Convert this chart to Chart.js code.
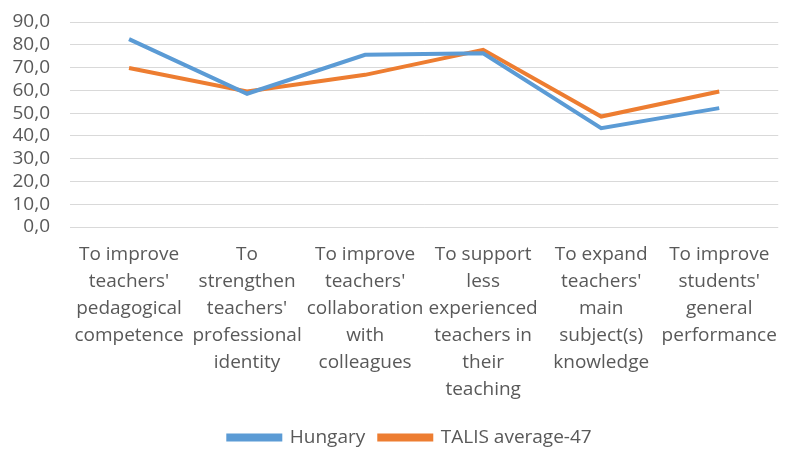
<!DOCTYPE html>
<html>
<head>
<meta charset="utf-8">
<script src="https://cdn.jsdelivr.net/npm/chart.js@4/dist/chart.umd.min.js"></script>
<style>
html,body{margin:0;padding:0;background:#fff;}
#wrap{width:791px;height:450px;position:relative;}
</style>
</head>
<body>
<div id="wrap"><canvas id="c"></canvas></div>
<script>
const categories = [
  ["To improve","teachers'","pedagogical","competence"],
  ["To","strengthen","teachers'","professional","identity"],
  ["To improve","teachers'","collaboration","with","colleagues"],
  ["To support","less","experienced","teachers in","their","teaching"],
  ["To expand","teachers'","main","subject(s)","knowledge"],
  ["To improve","students'","general","performance"]
];
const hungary = [82.5, 58.5, 75.6, 76.3, 43.4, 52.2];
const talis = [69.8, 59.5, 66.8, 77.8, 48.5, 59.5];
const seriesNames = ["Hungary", "TALIS average-47"];
const yTicks = [0, 10, 20, 30, 40, 50, 60, 70, 80, 90];

const blue = "#5B9BD5", orange = "#ED7D31", txt = "#595959";
const FONT = "'Open Sans', sans-serif";

const chart = new Chart(document.getElementById('c'), {
  type: 'line',
  data: {
    labels: categories,
    datasets: [
      {label: seriesNames[0], data: hungary, borderColor: blue, backgroundColor: blue, borderWidth: 4, pointRadius: 0, tension: 0},
      {label: seriesNames[1], data: talis, borderColor: orange, backgroundColor: orange, borderWidth: 4, pointRadius: 0, tension: 0}
    ]
  },
  options: {
    responsive: true,
    maintainAspectRatio: false,
    animation: false,
    layout: {padding: {left: 0, right: 1, top: 22, bottom: 0}},
    plugins: {
      legend: {
        position: 'bottom',
        labels: {
          boxWidth: 52, boxHeight: 4, color: txt, padding: 14,
          font: {family: FONT, size: 19}
        }
      },
      tooltip: {enabled: false}
    },
    scales: {
      x: {
        offset: true,
        grid: {display: false, drawTicks: false},
        border: {display: false},
        ticks: {
          color: txt, maxRotation: 0, autoSkip: false, padding: 14,
          font: {family: FONT, size: 19, lineHeight: 1.42}
        },
        afterFit: s => { s.height = 187; }
      },
      y: {
        min: 0, max: 90,
        afterBuildTicks: s => { s.ticks = yTicks.map(v => ({value: v})); },
        grid: {color: "#d9d9d9", lineWidth: 1, drawTicks: true, tickLength: 10, tickColor: "rgba(0,0,0,0)"},
        border: {display: false},
        ticks: {
          color: txt, padding: 10, autoSkip: false,
          font: {family: FONT, size: 19},
          callback: v => v.toFixed(1).replace('.', ',')
        },
        afterFit: s => { s.width = 70; }
      }
    }
  }
});

// tighten the legend box height and nudge it to the reference position
const lg = chart.legend;
const origFit = lg.fit;
lg.fit = function () { origFit.call(this); this.height = 36; this.minSize && (this.minSize.height = 36); };
const origDraw = lg.draw;
lg.draw = function () {
  const ctx = this.ctx;
  ctx.save(); ctx.translate(15, 0);
  origDraw.apply(this, arguments);
  ctx.restore();
};
chart.update();
</script>
</body>
</html>
